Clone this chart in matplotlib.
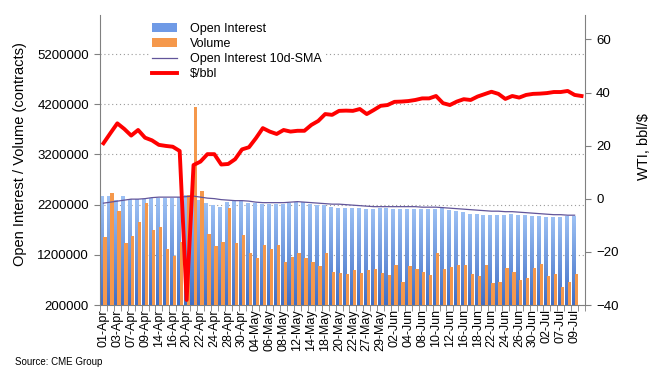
import numpy as np
import matplotlib.pyplot as plt
from matplotlib.colors import LinearSegmentedColormap
from matplotlib.lines import Line2D
from matplotlib.patches import Patch

plt.rcParams['font.family'] = ['Liberation Sans', 'DejaVu Sans']

# trading days 01-Apr .. 10-Jul (last day has only the price)
dates = ['01-Apr', '02-Apr', '03-Apr', '06-Apr', '07-Apr', '08-Apr', '09-Apr', '13-Apr', '14-Apr',
         '15-Apr', '16-Apr', '17-Apr', '20-Apr', '21-Apr', '22-Apr', '23-Apr', '24-Apr', '27-Apr',
         '28-Apr', '29-Apr', '30-Apr', '01-May', '04-May', '05-May', '06-May', '07-May', '08-May',
         '11-May', '12-May', '13-May', '14-May', '15-May', '18-May', '19-May', '20-May', '21-May',
         '22-May', '26-May', '27-May', '28-May', '29-May', '01-Jun', '02-Jun', '03-Jun', '04-Jun',
         '05-Jun', '08-Jun', '09-Jun', '10-Jun', '11-Jun', '12-Jun', '15-Jun', '16-Jun', '17-Jun',
         '18-Jun', '19-Jun', '22-Jun', '23-Jun', '24-Jun', '25-Jun', '26-Jun', '29-Jun', '30-Jun',
         '01-Jul', '02-Jul', '06-Jul', '07-Jul', '08-Jul', '09-Jul', '10-Jul']

open_interest = [2370000, 2370000, 2300000, 2370000, 2310000, 2310000, 2310000, 2330000, 2330000,
                 2330000, 2330000, 2350000, 2390000, 2390000, 2300000, 2230000, 2190000,
                 2160000, 2260000, 2280000, 2280000, 2240000, 2230000, 2210000, 2210000, 2210000,
                 2210000, 2240000, 2260000, 2260000, 2210000, 2190000, 2190000, 2160000, 2140000,
                 2140000, 2140000, 2125000, 2110000, 2110000, 2140000, 2125000, 2110000, 2110000,
                 2110000, 2110000, 2110000, 2110000, 2110000, 2125000, 2100000, 2070000,
                 2060000, 2010000, 2010000, 1990000, 1990000, 1990000, 1990000, 2010000, 1990000,
                 1990000, 1970000, 1970000, 1950000, 1950000, 1950000, 1970000, 1970000]

volume = [1549000, 2437000, 2070000, 1440000, 1575000, 1860000, 2240000, 1690000, 1750000,
          1315000, 1180000, 1460000, 2390000, 4150000,
          2470000, 1610000, 1375000, 1460000, 2140000, 1440000, 1594000, 1240000, 1140000,
          1395000, 1315000, 1395000, 1060000,
          1160000, 1230000, 1140000, 1060000, 977000, 1230000, 863000, 843000,
          812000, 897000, 843000, 897000, 923000, 843000, 798000, 1003000, 664000, 983000,
          923000, 863000, 798000, 1242000, 923000, 951000, 997000,
          997000, 818000, 778000, 997000, 632000, 664000, 931000, 851000, 698000, 732000,
          931000, 1017000, 778000, 812000, 553000, 652000, 818000]

oi_sma = [2230000, 2250000, 2270000, 2290000, 2310000, 2310000, 2320000, 2340000, 2350000,
          2350000, 2350000, 2350000, 2360000, 2370000, 2350000, 2330000, 2320000, 2300000,
          2290000, 2280000, 2280000, 2270000, 2250000, 2240000, 2240000, 2240000, 2240000,
          2250000, 2260000, 2250000, 2240000, 2230000, 2220000, 2210000, 2210000, 2200000,
          2190000, 2180000, 2170000, 2160000, 2160000, 2160000, 2160000, 2160000, 2160000,
          2160000, 2150000, 2150000, 2150000, 2140000, 2130000, 2120000, 2110000, 2100000,
          2090000, 2080000, 2070000, 2070000, 2060000, 2060000, 2050000, 2040000, 2030000,
          2020000, 2010000, 2000000, 2000000, 1990000, 1990000]

wti = [20.9, 24.7, 28.4, 26.3, 23.8, 25.9, 23.0, 22.0, 20.3, 19.9, 19.6, 18.0, -38.1, 12.7,
       14.0, 16.8, 16.8, 12.9,
       13.1, 14.9, 18.6, 19.4, 22.8, 26.6, 25.3, 24.4, 25.9, 25.3, 25.6, 25.6, 27.8, 29.3,
       31.9, 31.6, 33.1,
       33.2, 33.1, 33.8, 31.9, 33.4, 35.0, 35.3, 36.5, 36.6, 36.8, 37.2, 37.8, 37.8, 38.7,
       36.0, 35.3, 36.6,
       37.5, 37.2, 38.5, 39.4, 40.3, 39.5, 37.6, 38.7, 38.1, 39.1, 39.5, 39.6, 39.8, 40.2,
       40.2, 40.6, 39.1, 38.7]

left_ticks = [200000, 1200000, 2200000, 3200000, 4200000, 5200000]
right_ticks = [-40, -20, 0, 20, 40, 60]

fig = plt.figure(figsize=(6.64, 3.78), dpi=100)
ax = fig.add_axes([100 / 664, 73 / 378, 485 / 664, 290 / 378])

x = np.arange(len(open_interest))
blue = ax.bar(x - 0.22, open_interest, width=0.45, color='#7fa8ec', zorder=2)
orange = ax.bar(x + 0.24, volume, width=0.47, color='#f5984b', zorder=3)

# gradient fill on the open interest bars (darker at the base)
grad = np.linspace(0, 1, 64).reshape(-1, 1)
cmap = LinearSegmentedColormap.from_list('oi', ['#3f6ec6', '#9dc1f4'])
for b in blue:
    im = ax.imshow(grad, extent=(b.get_x(), b.get_x() + b.get_width(), 200000, b.get_height()),
                   origin='lower', cmap=cmap, aspect='auto', zorder=2)
    im.set_clip_path(b)

ax.plot(x, oi_sma, color='#62559a', lw=0.9, zorder=4)

ax.set_xlim(-0.5, len(dates) - 0.5)
ax.set_ylim(200000, 5980000)
ax.set_yticks(left_ticks)
ax.set_yticklabels([str(t) for t in left_ticks])
ax.yaxis.grid(True, linestyle=(0, (1, 2.5)), color='#9a9a9a', lw=0.8)
ax.set_axisbelow(True)

ax.set_xticks(np.arange(0, len(dates), 2))
ax.set_xticklabels(dates[::2], rotation=90, fontsize=9)
ax.set_xticks(np.arange(-0.5, len(dates), 1), minor=True)
ax.tick_params(axis='x', which='major', length=0, pad=3)
ax.tick_params(axis='x', which='minor', length=4, color='#808080')
ax.tick_params(axis='y', length=4, color='#808080', labelsize=9.5, pad=4)

ax.set_ylabel('Open Interest / Volume (contracts)', fontsize=10.5)
ax.yaxis.set_label_coords(-0.15, 0.52)

ax2 = ax.twinx()
ax2.plot(np.arange(len(wti)), wti, color='#ff0000', lw=2.8, solid_joinstyle='round', zorder=5)
ax2.set_ylim(-40, 69.2)
ax2.set_yticks(right_ticks)
ax2.tick_params(axis='y', length=4, color='#808080', labelsize=9.5, pad=4)
ax2.set_ylabel('WTI, bbl/$', fontsize=10.5)
ax2.yaxis.set_label_coords(1.107, 0.545)

for a in (ax, ax2):
    a.spines['top'].set_visible(False)
    for s in ('left', 'right', 'bottom'):
        a.spines[s].set_color('#808080')
ax.spines['right'].set_visible(False)
ax2.spines['left'].set_visible(False)
ax2.spines['bottom'].set_visible(False)

handles = [Patch(facecolor='#6f9ae6'), Patch(facecolor='#f5984b'),
           Line2D([], [], color='#62559a', lw=0.9), Line2D([], [], color='#ff0000', lw=2.8)]
labels = ['Open Interest', 'Volume', 'Open Interest 10d-SMA', '$/bbl']
leg = ax2.legend(handles, labels, loc='upper left', bbox_to_anchor=(0.1, 0.985), fontsize=9,
                 frameon=True, fancybox=False, edgecolor='none', facecolor='white', framealpha=1,
                 handlelength=2.0, handletextpad=1.0, labelspacing=0.25, borderpad=0.3,
                 borderaxespad=0)

fig.text(15 / 664, 1 - 362 / 378, 'Source: CME Group', fontsize=7, va='center')

fig.savefig('out.png', dpi=100)
